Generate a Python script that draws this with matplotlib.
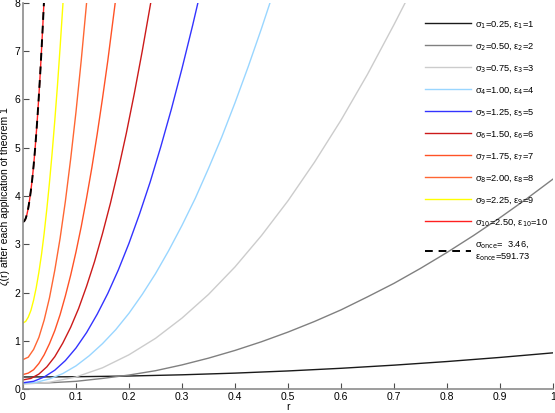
import numpy as np
import matplotlib.pyplot as plt

plt.rcParams['font.family'] = ['Liberation Sans', 'DejaVu Sans']

# curves: r values and zeta(r) values
r1 = [0, 0.1, 0.2, 0.3, 0.4, 0.5, 0.6, 0.7, 0.8, 0.9, 1.0]
z1 = [0.25, 0.255, 0.27, 0.295, 0.33, 0.375, 0.43, 0.495, 0.57, 0.655, 0.75]
r2 = [0, 0.05, 0.1, 0.15, 0.2, 0.25, 0.3, 0.35, 0.4, 0.45, 0.5,
      0.55, 0.6, 0.65, 0.7, 0.75, 0.8, 0.85, 0.9, 0.95, 1.0]
z2 = [0.12, 0.13, 0.16, 0.22, 0.29, 0.38, 0.50, 0.64, 0.80, 0.98, 1.18,
      1.40, 1.64, 1.91, 2.19, 2.50, 2.83, 3.18, 3.55, 3.94, 4.35]
r3 = [0, 0.05, 0.1, 0.15, 0.2, 0.25, 0.3, 0.35, 0.4, 0.45, 0.5,
      0.55, 0.6, 0.65, 0.7, 0.721]
z3 = [0.10, 0.14, 0.25, 0.44, 0.71, 1.05, 1.47, 1.96, 2.53, 3.18, 3.90,
      4.70, 5.57, 6.52, 7.55, 8.0]
r4 = [0, 0.025, 0.05, 0.075, 0.1, 0.125, 0.15, 0.175, 0.2, 0.225, 0.25,
      0.275, 0.3, 0.325, 0.35, 0.375, 0.4, 0.425, 0.45, 0.466]
z4 = [0.12, 0.14, 0.21, 0.32, 0.48, 0.69, 0.94, 1.23, 1.57, 1.96, 2.39,
      2.87, 3.39, 3.95, 4.57, 5.22, 5.93, 6.68, 7.47, 8.0]
r5 = [0, 0.02, 0.04, 0.06, 0.08, 0.1, 0.12, 0.14, 0.16, 0.18, 0.2,
      0.22, 0.24, 0.26, 0.28, 0.3, 0.32, 0.33]
z5 = [0.13, 0.16, 0.25, 0.39, 0.59, 0.85, 1.17, 1.55, 1.98, 2.47, 3.02,
      3.63, 4.29, 5.02, 5.80, 6.64, 7.53, 8.0]
r6 = [0, 0.015, 0.03, 0.045, 0.06, 0.075, 0.09, 0.105, 0.12, 0.135,
      0.15, 0.165, 0.18, 0.195, 0.21, 0.225, 0.241]
z6 = [0.19, 0.22, 0.31, 0.46, 0.67, 0.95, 1.28, 1.67, 2.13, 2.64,
      3.22, 3.85, 4.55, 5.30, 6.12, 7.00, 8.0]
r7 = [0, 0.01, 0.02, 0.03, 0.04, 0.05, 0.06, 0.07, 0.08, 0.09, 0.1,
      0.11, 0.12, 0.13, 0.14, 0.15, 0.16, 0.174]
z7 = [0.30, 0.33, 0.40, 0.53, 0.71, 0.94, 1.21, 1.54, 1.93, 2.36, 2.84,
      3.37, 3.96, 4.59, 5.28, 6.02, 6.80, 8.0]
r8 = [0, 0.01, 0.02, 0.03, 0.04, 0.05, 0.06, 0.07, 0.08, 0.09, 0.1, 0.11, 0.12]
z8 = [0.61, 0.66, 0.82, 1.07, 1.43, 1.89, 2.46, 3.12, 3.89, 4.77, 5.74, 6.82, 8.0]
r9 = [0, 0.005, 0.01, 0.015, 0.02, 0.025, 0.03, 0.035, 0.04, 0.045,
      0.05, 0.055, 0.06, 0.065, 0.07, 0.0755]
z9 = [1.37, 1.40, 1.49, 1.63, 1.84, 2.10, 2.42, 2.79, 3.23, 3.73,
      4.28, 4.89, 5.56, 6.28, 7.07, 8.0]
r10 = [0, 0.0025, 0.005, 0.0075, 0.01, 0.0125, 0.015, 0.0175, 0.02,
       0.0225, 0.025, 0.0275, 0.03, 0.0325, 0.035, 0.0375, 0.0395]
z10 = [3.46, 3.48, 3.53, 3.62, 3.75, 3.92, 4.12, 4.35, 4.62,
       4.93, 5.28, 5.66, 6.08, 6.53, 7.03, 7.55, 8.0]

sigmas = ['0.25', '0.50', '0.75', '1.00', '1.25', '1.50', '1.75', '2.00', '2.25', '2.50']
colors = ['#1a1a1a', '#808080', '#cccccc', '#99d6ff', '#3333ff',
          '#cc1a1a', '#ff5226', '#ff6633', '#ffff00', '#ff2020']
curves = [(r1, z1), (r2, z2), (r3, z3), (r4, z4), (r5, z5),
          (r6, z6), (r7, z7), (r8, z8), (r9, z9), (r10, z10)]

fig = plt.figure(figsize=(5.55, 4.13), dpi=100)
ax = fig.add_axes([0.0414, 0.058, 0.955, 0.935])

for k, (r, z) in enumerate(curves):
    lab = 'σ$_{%d}$=%s, ε$_{%d}$=%d' % (k + 1, sigmas[k], k + 1, k + 1)
    ax.plot(r, z, color=colors[k], lw=1.0, label=lab)
ax.plot(r10, z10, 'k--', lw=1.4, dashes=(4, 3),
        label='σ$_{\\mathrm{once}}$=  3.46,\nε$_{\\mathrm{once}}$=591.73')

ax.set_xlim(0, 1)
ax.set_ylim(0, 8)
ax.set_xticks(np.arange(0, 1.01, 0.1))
ax.set_xticklabels(['0', '0.1', '0.2', '0.3', '0.4', '0.5', '0.6', '0.7', '0.8', '0.9', '1'])
ax.set_yticks(range(9))
ax.tick_params(direction='in', length=4, width=0.8, color='0.3', labelsize=7.5, pad=2)
for s in ['top', 'right']:
    ax.spines[s].set_visible(False)
for s in ['left', 'bottom']:
    ax.spines[s].set_color('0.55')
    ax.spines[s].set_linewidth(1.2)
ax.set_xlabel('r', fontsize=7.5, labelpad=0)
ax.set_ylabel('ζ(r) after each application of theorem 1', fontsize=7.5, labelpad=3)

ax.legend(loc='upper right', frameon=False, fontsize=6.7, handlelength=5.0,
          labelspacing=1.18, bbox_to_anchor=(1.006, 0.98), handletextpad=0.4)

fig.savefig('out.png', dpi=100)
